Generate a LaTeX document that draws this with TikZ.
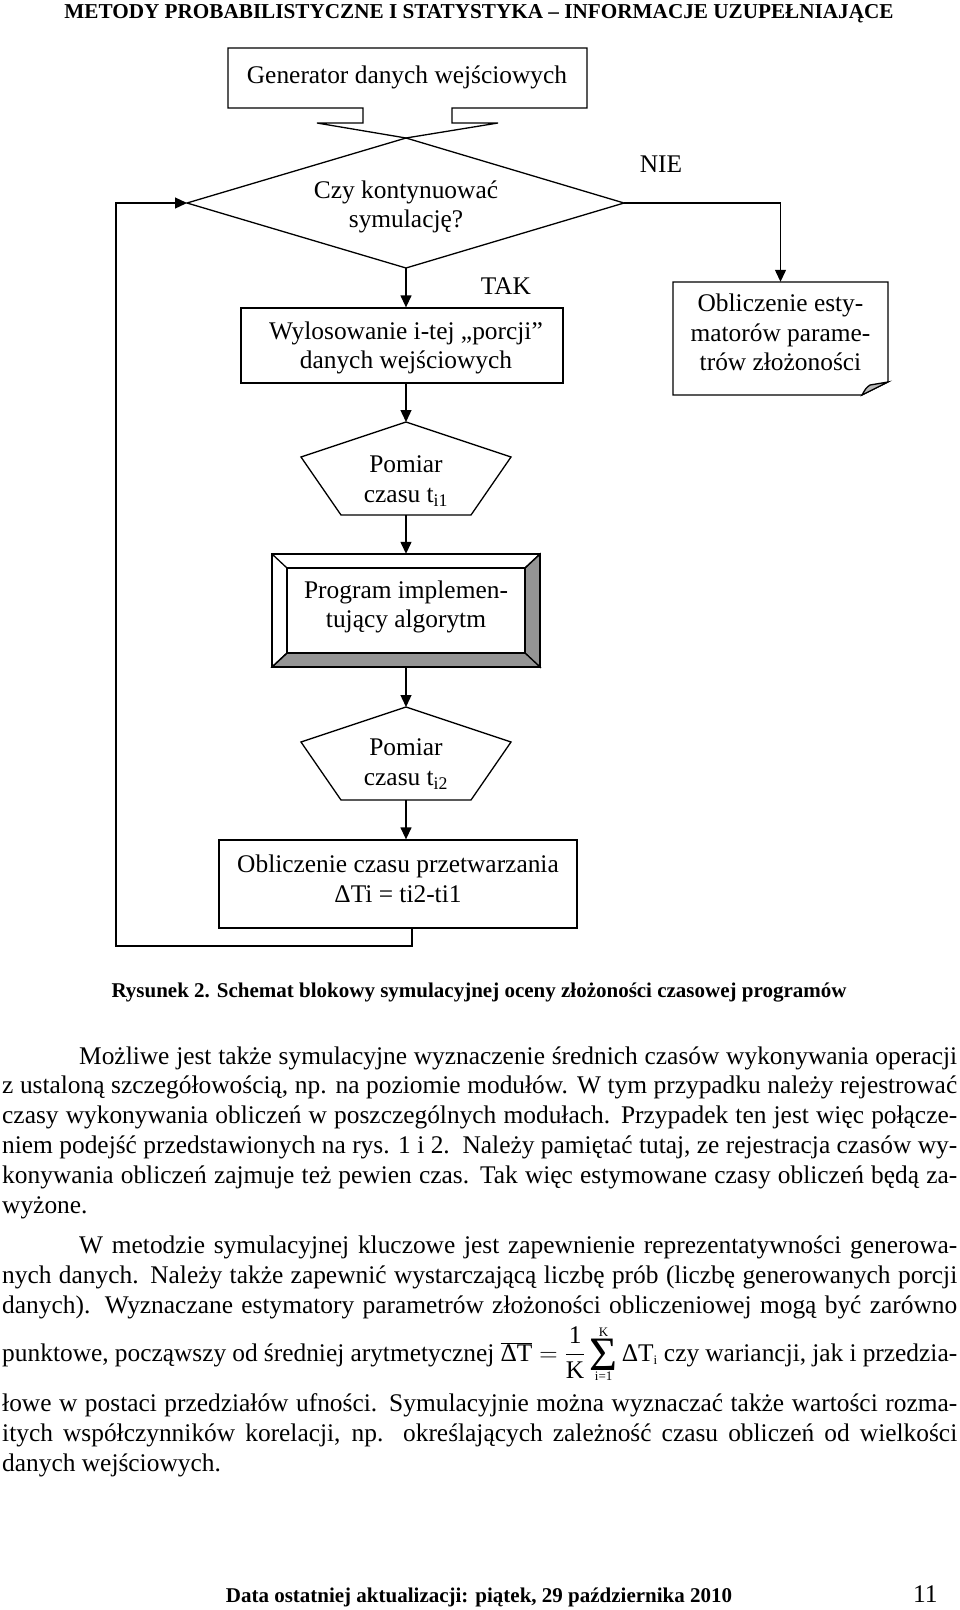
\RequirePackage{fix-cm}
\documentclass[tikz,border=0pt]{standalone}
\usepackage{fontspec}
\setmainfont{Liberation Serif}
\usetikzlibrary{arrows.meta}
\newcommand{\dtxt}{\fontsize{25.4}{29.5}\selectfont}
\newcommand{\jline}[1]{\makebox[955pt][s]{#1}}
\newcommand{\jlineind}[1]{\makebox[878pt][s]{#1}}
\newcommand{\smallidx}{\fontsize{13}{13}\selectfont}
\newcommand{\bigsig}{\mathop{\vcenter{\hbox{\fontsize{48}{48}\selectfont Σ}}}}
\begin{document}
\begin{tikzpicture}[x=1pt,y=-1pt,
  ln/.style={line width=1.3pt, line join=miter},
  arr/.style={line width=1.3pt,-{Triangle[length=12pt,width=11pt]}},
  lbl/.style={font=\dtxt, align=center, inner sep=0pt},
  txtline/.style={font=\dtxt, anchor=base west, inner sep=0pt},
  boldline/.style={font=\fontsize{21.2}{24}\selectfont\bfseries, anchor=base, inner sep=0pt},
  plainbox/.style={draw, line width=1.3pt, inner sep=0pt},
  bevel/.style={fill=black!42},
  curl/.style={fill=black!28},
]
\useasboundingbox (0,0) rectangle (960,1610);

% header
\node[boldline] (hdr) at (479,18) {METODY PROBABILISTYCZNE I STATYSTYKA – INFORMACJE UZUPEŁNIAJĄCE};

% generator with notch and decision diamond
\coordinate (dT) at (406,138);
\coordinate (dR) at (624,203);
\coordinate (dB) at (406,268);
\coordinate (dL) at (187,203);
\draw[ln] (dT) -- (498,123) -- (452,123) -- (452,108) -- (587,108) -- (587,48)
  -- (228,48) -- (228,108) -- (363,108) -- (363,123) -- (317,123) -- cycle;
\node[lbl] (gen) at (407,77) {Generator danych wejściowych};
\draw[ln] (dT) -- (dR) -- (dB) -- (dL) -- cycle;
\node[lbl] (dec) at (406,207) {Czy kontynuować\\symulację?};
\node[lbl] (nie) at (661,164) {NIE};
\node[lbl] (tak) at (506,286) {TAK};

% right branch: estimators box with curled corner
\draw[ln] (673,282) -- (888,282) -- (888,382) -- (862,395) -- (673,395) -- cycle;
\draw[ln,curl] (862,395) .. controls (866,388) .. (870,385) -- (888,382) -- cycle;
\node[inner sep=0pt, minimum width=215pt, minimum height=113pt] (oe) at (780.5,338.5) {};
\node[lbl] (oeT) at (780.5,332.5) {Obliczenie esty-\\matorów parame-\\trów złożoności};
\draw[arr] (dR) -| (oe.north);

% left column
\node[plainbox, minimum width=322pt, minimum height=75pt] (wyl) at (402,345.5) {};
\node[lbl] (wylT) at (406,348) {Wylosowanie i-tej „porcji”\\danych wejściowych};
\draw[arr] (dB) -- (dB |- wyl.north);

\coordinate (p1top) at (406,422);
\coordinate (p1bot) at (406,515);
\draw[ln] (p1top) -- (511,457) -- (471,515) -- (341,515) -- (301,457) -- cycle;
\node[lbl] (p1) at (406,481) {Pomiar\\czasu t\textsubscript{i1}};
\draw[arr] (p1top |- wyl.south) -- (p1top);

% bevelled program box
\node[inner sep=0pt, minimum width=268pt, minimum height=113pt] (prog) at (406,610.5) {};
\draw[ln,bevel] (540,554) -- (540,667) -- (525,653) -- (525,568) -- cycle;
\draw[ln,bevel] (272,667) -- (540,667) -- (525,653) -- (287,653) -- cycle;
\draw[ln] (272,554) rectangle (540,667);
\draw[ln] (287,568) rectangle (525,653);
\draw[ln] (272,554) -- (287,568);
\draw[ln] (540,554) -- (525,568);
\draw[ln] (272,667) -- (287,653);
\node[lbl] (progT) at (406,607) {Program implemen-\\tujący algorytm};
\draw[arr] (p1bot) -- (p1bot |- prog.north);

\coordinate (p2top) at (406,707);
\coordinate (p2bot) at (406,800);
\draw[ln] (p2top) -- (511,742) -- (471,800) -- (341,800) -- (301,742) -- cycle;
\node[lbl] (p2) at (406,764) {Pomiar\\czasu t\textsubscript{i2}};
\draw[arr] (p2top |- prog.south) -- (p2top);

\node[plainbox, minimum width=358pt, minimum height=88pt] (bot) at (398,884) {};
\node[lbl] (botT) at (398,879) {Obliczenie czasu przetwarzania\\ΔTi = ti2-ti1};
\draw[arr] (p2bot) -- (p2bot |- bot.north);

% feedback loop
\coordinate (loopOut) at (412,928);
\coordinate (loopCorner) at (116,946);
\draw[arr] (loopOut) |- (loopCorner) |- (dL);

% caption
\node[boldline, font=\fontsize{21}{24}\selectfont\bfseries] (cap) at (479,997)
  {Rysunek 2. Schemat blokowy symulacyjnej oceny złożoności czasowej programów};

% body text
\node[txtline] (b1) at (79,1064) {\jlineind{Możliwe jest także symulacyjne wyznaczenie średnich czasów wykonywania operacji}};
\node[txtline] (b2) at (2,1093) {\jline{z ustaloną szczegółowością, np. na poziomie modułów. W tym przypadku należy rejestrować}};
\node[txtline] (b3) at (2,1123) {\jline{czasy wykonywania obliczeń w poszczególnych modułach. Przypadek ten jest więc połącze-}};
\node[txtline] (b4) at (2,1153) {\jline{niem podejść przedstawionych na rys. 1 i 2.\ \ Należy pamiętać tutaj, ze rejestracja czasów wy-}};
\node[txtline] (b5) at (2,1183) {\jline{konywania obliczeń zajmuje też pewien czas. Tak więc estymowane czasy obliczeń będą za-}};
\node[txtline] (b6) at (2,1213) {wyżone.};
\node[txtline] (b7) at (79,1253) {\jlineind{W metodzie symulacyjnej kluczowe jest zapewnienie reprezentatywności generowa-}};
\node[txtline] (b8) at (2,1283) {\jline{nych danych. Należy także zapewnić wystarczającą liczbę prób (liczbę generowanych porcji}};
\node[txtline] (b9) at (2,1313) {\jline{danych). Wyznaczane estymatory parametrów złożoności obliczeniowej mogą być zarówno}};
\node[txtline] (b10) at (2,1361) {\jline{punktowe, począwszy od średniej arytmetycznej \mbox{$\displaystyle\overline{\mbox{ΔT}}=\frac{\mbox{1}}{\mbox{K}}\bigsig\limits_{\mbox{\smallidx i=1}}^{\mbox{\smallidx K}}\mbox{ΔT}_{\mbox{\smallidx i}}$} czy wariancji, jak i przedzia-}};
\node[txtline] (b11) at (2,1411) {\jline{łowe w postaci przedziałów ufności. Symulacyjnie można wyznaczać także wartości rozma-}};
\node[txtline] (b12) at (2,1441) {\jline{itych współczynników korelacji, np. określających zależność czasu obliczeń od wielkości}};
\node[txtline] (b13) at (2,1471) {danych wejściowych.};

% footer
\node[boldline, font=\fontsize{21}{24}\selectfont\bfseries] (foot) at (479,1602) {Data ostatniej aktualizacji: piątek, 29 października 2010};
\node[txtline] (pg) at (913,1602) {11};
\end{tikzpicture}
\end{document}
